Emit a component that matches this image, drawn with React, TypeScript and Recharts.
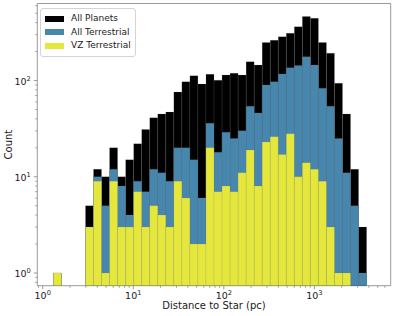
import React from "react";
import { ComposedChart, Bar, XAxis, YAxis, Legend, ReferenceArea } from "recharts";

// 40 equal-width bins in log10(distance / pc)
const BIN_LOG_START = 0.1174;
const BIN_LOG_END = 3.666;
const N_BINS = 40;

const allPlanets = [
  1, 0, 0, 0, 5, 12, 10, 20, 10, 15, 22, 31, 41, 45, 47, 76, 97, 112, 92, 116,
  101, 114, 119, 114, 157, 145, 248, 262, 286, 310, 363, 462, 443, 248, 192, 94, 45, 12, 3, 0,
];
const allTerrestrial = [
  1, 0, 0, 0, 3, 10, 5, 12, 8, 4, 9, 7, 12, 11, 9, 20, 20, 15, 6, 36,
  18, 29, 25, 30, 54, 46, 90, 97, 117, 136, 143, 177, 145, 83, 54, 25, 11, 5, 1, 0,
];
const vzTerrestrial = [
  1, 0, 0, 0, 3, 9, 1, 9, 3, 3, 7, 3, 5, 4, 3, 9, 6, 2, 2, 20,
  7, 8, 7, 11, 19, 8, 23, 26, 17, 28, 10, 14, 12, 9, 3, 1, 1, 0, 0, 0,
];

const xTicks = [
  0.9, 1, 2, 3, 4, 5, 6, 7, 8, 9, 10, 20, 30, 40, 50, 60, 70, 80, 90,
  100, 200, 300, 400, 500, 600, 700, 800, 900, 1000, 2000, 3000, 4000, 5000, 6000,
];
const yTicks = [
  0.8, 0.9, 1, 2, 3, 4, 5, 6, 7, 8, 9, 10, 20, 30, 40, 50, 60, 70, 80, 90,
  100, 200, 300, 400, 500, 600,
];

const X_DOMAIN = [0.871, 6966];
const Y_DOMAIN = [0.738, 632];

const series = [
  { key: "planets", name: "All Planets", color: "#000000", values: allPlanets },
  { key: "terr", name: "All Terrestrial", color: "#4786ad", values: allTerrestrial },
  { key: "vz", name: "VZ Terrestrial", color: "#e5e73c", values: vzTerrestrial },
];

const binWidth = (BIN_LOG_END - BIN_LOG_START) / N_BINS;
const data = allPlanets.map((_, i) => {
  const row: any = { dist: Math.pow(10, BIN_LOG_START + (i + 0.5) * binWidth) };
  series.forEach((s) => {
    row[s.key] = s.values[i] > 0 ? s.values[i] : null;
  });
  return row;
});

const SPINE = "#9a9a9a";
const TEXT = "#1a1a1a";

const isMajor = (v: number) => {
  const l = Math.log10(v);
  return Math.abs(l - Math.round(l)) < 1e-6;
};

function XTick(props: any) {
  const { x, y, payload } = props;
  const v = payload.value;
  const major = isMajor(v);
  return (
    <g>
      <line x1={x} x2={x} y1={y} y2={y + (major ? 3.5 : 2)} stroke={SPINE} />
      {major && (
        <text x={x} y={y + 13} textAnchor="middle" fontSize={9.5} fill={TEXT}>
          <tspan>10</tspan>
          <tspan dy={-4} fontSize={6.7}>{Math.round(Math.log10(v))}</tspan>
        </text>
      )}
    </g>
  );
}

function YTick(props: any) {
  const { x, y, payload } = props;
  const v = payload.value;
  const major = isMajor(v);
  return (
    <g>
      <line x1={x - (major ? 3.5 : 2)} x2={x} y1={y} y2={y} stroke={SPINE} />
      {major && (
        <text x={x - 6.5} y={y + 4} textAnchor="end" fontSize={9.5} fill={TEXT}>
          <tspan>10</tspan>
          <tspan dy={-4} fontSize={6.7}>{Math.round(Math.log10(v))}</tspan>
        </text>
      )}
    </g>
  );
}

function LegendBox() {
  return (
    <div
      style={{
        border: "1px solid #d4d4d4",
        borderRadius: 3,
        background: "#fff",
        padding: "3px 4px 3px 4px",
        fontSize: 9,
        lineHeight: "13.5px",
        color: TEXT,
      }}
    >
      {series.map((s) => (
        <div key={s.key} style={{ display: "flex", alignItems: "center", whiteSpace: "nowrap" }}>
          <span style={{ display: "inline-block", width: 19, height: 6, background: s.color, marginRight: 7 }} />
          <span>{s.name}</span>
        </div>
      ))}
    </div>
  );
}

export default function App() {
  return (
    <div style={{ position: "absolute", left: 0, top: 0, fontFamily: "DejaVu Sans", background: "#fff" }}>
      <ComposedChart
        width={395}
        height={316}
        data={data}
        margin={{ top: 3.5, right: 4.3, bottom: 0, left: 0 }}
        barCategoryGap={0}
        barGap={0}
      >
        <XAxis
          xAxisId="a"
          dataKey="dist"
          type="number"
          scale="log"
          domain={X_DOMAIN}
          allowDataOverflow
          ticks={xTicks}
          interval={0}
          tick={<XTick />}
          tickLine={false}
          tickSize={0}
          tickMargin={0}
          axisLine={false}
          height={30.3}
          label={(p: any) => {
            const vb = p.viewBox;
            return (
              <text x={vb.x + vb.width / 2} y={vb.y + 23} textAnchor="middle" fontSize={10} fill={TEXT}>
                Distance to Star (pc)
              </text>
            );
          }}
        />
        <XAxis xAxisId="b" dataKey="dist" type="number" scale="log" domain={X_DOMAIN} allowDataOverflow hide />
        <XAxis xAxisId="c" dataKey="dist" type="number" scale="log" domain={X_DOMAIN} allowDataOverflow hide />
        <YAxis
          type="number"
          scale="log"
          domain={Y_DOMAIN}
          allowDataOverflow
          ticks={yTicks}
          interval={0}
          tick={<YTick />}
          tickLine={false}
          tickSize={0}
          tickMargin={0}
          axisLine={false}
          width={37.3}
          label={(p: any) => {
            const vb = p.viewBox;
            const cx = 8.5;
            const cy = vb.y + vb.height / 2;
            return (
              <text
                x={cx}
                y={cy}
                textAnchor="middle"
                dominantBaseline="central"
                transform={`rotate(-90 ${cx} ${cy})`}
                fontSize={10}
                fill={TEXT}
              >
                Count
              </text>
            );
          }}
        />
        {series.map((s, i) => (
          <Bar
            key={s.key}
            xAxisId={["a", "b", "c"][i]}
            dataKey={s.key}
            name={s.name}
            fill={s.color}
            stroke="#808080"
            strokeOpacity={0.35}
            strokeWidth={0.4}
            isAnimationActive={false}
          />
        ))}
        <ReferenceArea
          xAxisId="a"
          x1={X_DOMAIN[0]}
          x2={X_DOMAIN[1]}
          y1={Y_DOMAIN[0]}
          y2={Y_DOMAIN[1]}
          fill="none"
          stroke={SPINE}
          strokeWidth={1}
          ifOverflow="visible"
        />
        <Legend
          layout="horizontal"
          verticalAlign="middle"
          align="center"
          wrapperStyle={{ top: 8, left: 40, width: "auto", height: "auto" }}
          content={() => <LegendBox />}
        />
      </ComposedChart>
    </div>
  );
}
